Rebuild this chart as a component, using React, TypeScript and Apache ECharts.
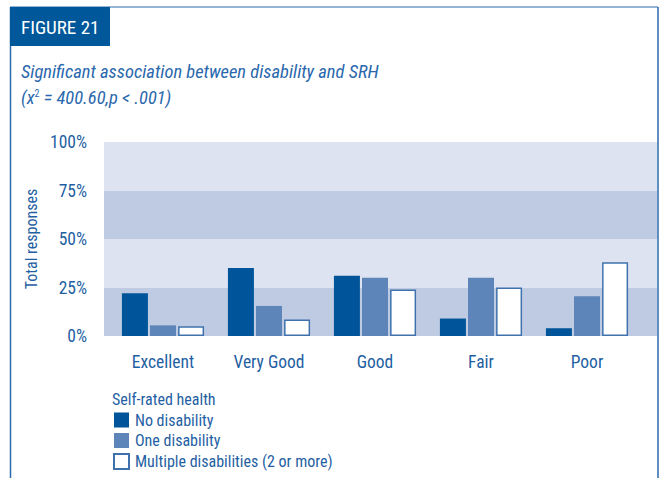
import React, { useEffect, useRef } from "react";
import * as echarts from "echarts";

const categories = ["Excellent", "Very Good", "Good", "Fair", "Poor"];
const noDisability = [22, 35, 31, 9, 4];
const oneDisability = [5.5, 15.5, 30, 30, 20.5];
const multipleDisabilities = [5, 8.5, 24, 25, 38];
const yTicks = [0, 25, 50, 75, 100];

const FONT = "'Liberation Sans Narrow', 'Roboto Condensed', 'Liberation Sans', Arial, sans-serif";
const TEXT = "#1f5fa3";
const DARK = "#00559a";
const MID = "#5d85b9";

export default function App() {
  const ref = useRef<HTMLDivElement>(null);
  useEffect(() => {
    if (!ref.current) return;
    const chart = echarts.init(ref.current, undefined, { renderer: "svg" });
    chart.setOption({
      animation: false,
      textStyle: { fontFamily: FONT },
      grid: [
        { left: 104, right: 3, top: 142, bottom: 142 },
        { left: 110, width: 530, top: 142, bottom: 142 },
      ],
      xAxis: [
        { gridIndex: 0, type: "value", min: 0, max: 1, show: false },
        {
          gridIndex: 1,
          type: "category",
          data: categories,
          boundaryGap: true,
          axisLine: { show: false },
          axisTick: { show: false },
          axisLabel: { color: TEXT, fontSize: 17.5, margin: 17, fontFamily: FONT },
        },
      ],
      yAxis: [
        {
          gridIndex: 0,
          type: "value",
          min: yTicks[0],
          max: yTicks[yTicks.length - 1],
          interval: 25,
          name: "Total responses",
          nameLocation: "middle",
          nameGap: 64,
          nameTextStyle: { color: TEXT, fontSize: 16, fontFamily: FONT },
          axisLine: { show: false },
          axisTick: { show: false },
          splitLine: { show: false },
          splitArea: { show: true, areaStyle: { color: ["#bfcbe3", "#dde3f1"] } },
          axisLabel: { color: TEXT, fontSize: 17.5, margin: 17, formatter: "{value}%", fontFamily: FONT },
        },
        { gridIndex: 1, type: "value", min: 0, max: 100, show: false },
      ],
      legend: {
        orient: "vertical",
        left: 113,
        top: 412,
        padding: 0,
        icon: "rect",
        itemWidth: 15,
        itemHeight: 15,
        itemGap: 4.5,
        textStyle: { color: TEXT, fontSize: 16, fontFamily: FONT, padding: [0, 0, 0, 1] },
        data: ["No disability", "One disability", "Multiple disabilities (2 or more)"],
      },
      graphic: [
        { type: "line", shape: { x1: 10.5, y1: 7, x2: 10.5, y2: 478 }, style: { stroke: "#2a6aad", lineWidth: 1.5 } },
        { type: "line", shape: { x1: 10, y1: 7, x2: 658, y2: 7 }, style: { stroke: "#2a6aad", lineWidth: 1 } },
        { type: "line", shape: { x1: 658, y1: 7, x2: 658, y2: 478 }, style: { stroke: "#2a6aad", lineWidth: 1.5 } },
        { type: "rect", shape: { x: 10, y: 7, width: 100, height: 39 }, style: { fill: "#00579a" } },
        {
          type: "text",
          x: 21,
          y: 27,
          style: { text: "FIGURE 21", fill: "#ffffff", fontSize: 19, fontFamily: FONT, verticalAlign: "middle" },
        },
        {
          type: "text",
          x: 21,
          y: 72,
          style: {
            text: "Significant association between disability and SRH",
            fill: "#2a68ad",
            fontSize: 18.5,
            fontStyle: "italic",
            fontFamily: FONT,
            verticalAlign: "middle",
          },
        },
        {
          type: "text",
          x: 21,
          y: 98,
          style: {
            text: "(x{sup|2} = 400.60,p < .001)",
            fill: "#2a68ad",
            fontSize: 18.5,
            fontStyle: "italic",
            fontFamily: FONT,
            verticalAlign: "middle",
            rich: { sup: { fontSize: 10, verticalAlign: "top", padding: [0, 0, 8, 0], fill: "#2a68ad", fontFamily: FONT } },
          },
        },
        {
          type: "text",
          x: 112,
          y: 399,
          style: { text: "Self-rated health", fill: TEXT, fontSize: 16, fontFamily: FONT, verticalAlign: "middle" },
        },
      ],
      series: [
        {
          name: "No disability",
          type: "bar",
          xAxisIndex: 1,
          yAxisIndex: 1,
          data: noDisability,
          barWidth: 26,
          barGap: "8%",
          itemStyle: { color: DARK },
        },
        {
          name: "One disability",
          type: "bar",
          xAxisIndex: 1,
          yAxisIndex: 1,
          data: oneDisability,
          barWidth: 26,
          barGap: "8%",
          itemStyle: { color: MID },
        },
        {
          name: "Multiple disabilities (2 or more)",
          type: "bar",
          xAxisIndex: 1,
          yAxisIndex: 1,
          data: multipleDisabilities,
          barWidth: 26,
          barGap: "8%",
          itemStyle: { color: "#ffffff", borderColor: "#3f72ad", borderWidth: 1.5 },
        },
      ],
    });
    return () => chart.dispose();
  }, []);
  return (
    <div
      ref={ref}
      style={{ position: "fixed", left: 0, top: 0, width: 660, height: 478, background: "#ffffff" }}
    />
  );
}
